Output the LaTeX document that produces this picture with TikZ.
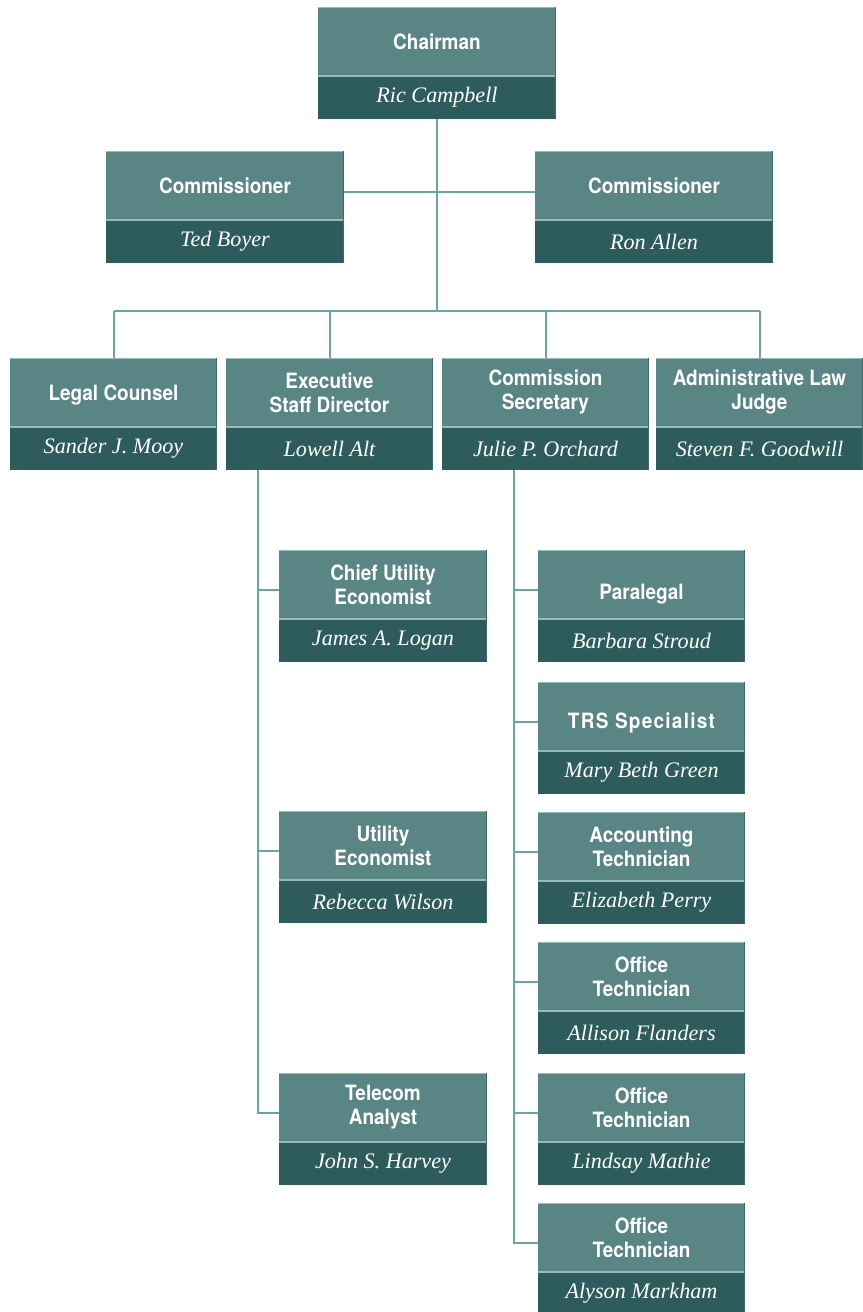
\documentclass[tikz,border=0pt]{standalone}
\usepackage{fontspec}
\setsansfont{TeX Gyre Heros}[FakeStretch=0.9]
\newfontfamily\namefont{Liberation Serif}
\usetikzlibrary{positioning}
\definecolor{boxtop}{RGB}{90,133,133}
\definecolor{boxbot}{RGB}{46,91,91}
\definecolor{boxlite}{RGB}{150,185,185}
\definecolor{boxdark}{RGB}{60,105,105}
\definecolor{wirecol}{RGB}{105,165,165}
\tikzset{
  post/.style={rectangle, fill=boxtop, text=white, inner sep=0pt, minimum height=13.6mm,
    align=center, font=\sffamily\bfseries\fontsize{12}{13.6}\selectfont},
  holder/.style={rectangle, fill=boxbot, text=white, inner sep=0pt, minimum height=8.6mm,
    font=\namefont\itshape\fontsize{12.6}{13}\selectfont},
  flat/.style={},
  lowA/.style={text height=12.2pt},
  lowB/.style={text height=16.6pt},
  lowC/.style={text height=20pt},
  wire/.style={draw=wirecol, line width=0.4mm},
  lite/.style={boxlite, line width=0.4mm}
}
\begin{document}
\begin{tikzpicture}[x=0.2mm, y=-0.2mm]
\useasboundingbox (0,0) rectangle (863,1312);
\fill[white] (0,0) rectangle (863,1312);
% boxes: name / centre x / top y / width / extra / title / person
\foreach \n/\x/\y/\w/\s/\t/\p in {
  chair/437/7/47.6/flat/Chairman/Ric Campbell,
  comL/225/151/47.6/flat/Commissioner/Ted Boyer,
  comR/654/151/47.6/flat/Commissioner/Ron Allen,
  legal/113.5/358/41.4/lowA/Legal Counsel/Sander J. Mooy,
  exec/329.5/358/41.4/flat/{Executive\\Staff Director}/Lowell Alt,
  sec/545.5/358/41.4/flat/{Commission\\Secretary}/Julie P. Orchard,
  alj/759.5/358/41.4/flat/{Administrative Law\\Judge}/Steven F. Goodwill,
  chief/383/550/41.6/flat/{Chief Utility\\Economist}/James A. Logan,
  util/383/811/41.6/flat/{Utility\\Economist}/Rebecca Wilson,
  tel/383/1073/41.6/flat/{Telecom\\Analyst}/John S. Harvey,
  para/641.5/550/41.4/lowC/Paralegal/Barbara Stroud,
  trs/641.5/682/41.4/lowB/{\addfontfeature{LetterSpace=6}TRS Specialist}/Mary Beth Green,
  acct/641.5/812/41.4/flat/{Accounting\\Technician}/Elizabeth Perry,
  offA/641.5/942/41.4/flat/{Office\\Technician}/Allison Flanders,
  offB/641.5/1073/41.4/flat/{Office\\Technician}/Lindsay Mathie,
  offC/641.5/1203/41.4/flat/{Office\\Technician}/Alyson Markham}
{
  \node[post, \s, minimum width=\w mm, anchor=north] (\n) at (\x,\y) {\t};
  \node[holder, minimum width=\w mm, below=0pt of \n] (\n-n) {\p};
  \draw[lite] (\n-n.north west) -- (\n-n.north east);
  \draw[boxlite, line width=0.2mm] (\n.north west) -- (\n.north east);
  \draw[boxdark, line width=0.3mm] ([xshift=-0.15mm]\n.north east) -- ([xshift=-0.15mm]\n-n.south east);
}
% connectors
\coordinate (bus) at (437,311);
\draw[wire] (chair-n.south) -- (bus);
\draw[wire] ([yshift=-1.4mm]comL.east) -- ([yshift=-1.4mm]comR.west);
\draw[wire] (legal.north |- bus) -- (alj.north |- bus);
\foreach \n in {legal,exec,sec,alj}
  \draw[wire] (\n.north |- bus) -- (\n.north);
\coordinate (spineL) at ([xshift=-14.3mm]exec-n.south);
\foreach \n in {chief,util,tel}
  \draw[wire] (spineL) |- ([yshift=-1.2mm]\n.west);
\coordinate (spineR) at ([xshift=-6.3mm]sec-n.south);
\foreach \n in {para,trs,acct,offA,offB,offC}
  \draw[wire] (spineR) |- ([yshift=-1.2mm]\n.west);
\end{tikzpicture}
\end{document}
